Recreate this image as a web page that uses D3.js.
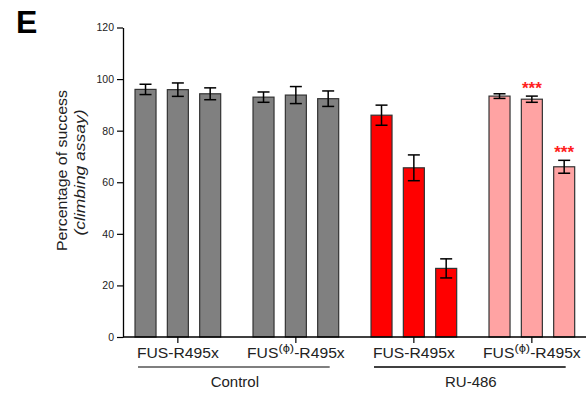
<!DOCTYPE html>
<html>
<head>
<meta charset="utf-8">
<script src="https://cdn.jsdelivr.net/npm/d3@7/dist/d3.min.js"></script>
<style>
  html, body { margin: 0; padding: 0; background: #fff; }
  svg { display: block; font-family: "Liberation Sans", Arial, sans-serif; }
</style>
</head>
<body>
<svg id="chart" width="588" height="396"></svg>
<script>
// ---- data ----
const groupIds = ["ctrl-FUS", "ctrl-FUSphi", "ru-FUS", "ru-FUSphi"];
const groupLabelMain = ["FUS", "FUS", "FUS", "FUS"];
const groupLabelSup = ["", "(\u03D5)", "", "(\u03D5)"];
const groupLabelTail = ["-R495x", "-R495x", "-R495x", "-R495x"];
const barsPerGroup = [0, 1, 2];
const values = [96.0, 95.9, 94.3, 93.0, 93.8, 92.4, 86.0, 65.6, 26.6, 93.4, 92.2, 66.0];
const errors = [2.0, 2.6, 2.3, 2.0, 3.3, 3.0, 3.9, 5.0, 3.7, 0.9, 1.2, 2.5];
const signif = ["", "", "", "", "", "", "", "", "", "", "***", "***"];
const groupColors = ["#808080", "#808080", "#ff0000", "#ffa3a3"];
const yTicks = [0, 20, 40, 60, 80, 100, 120];
const conditions = ["Control", "RU-486"];
const conditionGroups = [["ctrl-FUS", "ctrl-FUSphi"], ["ru-FUS", "ru-FUSphi"]];

// ---- layout ----
const svg = d3.select("#chart");
const axisX = 123;
const y = d3.scaleLinear().domain([0, 120]).range([337, 27.5]);
const xg = d3.scaleBand().domain(groupIds).range([118.85, 590.85]).paddingInner(0).paddingOuter(0);
const xb = d3.scaleBand().domain(barsPerGroup).range([0, xg.bandwidth()]).paddingInner(0.35).paddingOuter(0.5);

const bars = values.map((v, i) => ({
  v, e: errors[i], s: signif[i],
  g: groupIds[Math.floor(i / 3)], b: i % 3, gi: Math.floor(i / 3)
}));

// Panel letter
svg.append("text").attr("x", 16).attr("y", 33)
  .attr("font-size", 32).attr("font-weight", "bold").attr("fill", "#000").text("E");

// Bars
svg.append("g").selectAll("rect").data(bars).join("rect")
  .attr("x", d => xg(d.g) + xb(d.b))
  .attr("y", d => y(d.v))
  .attr("width", xb.bandwidth())
  .attr("height", d => y(0) - y(d.v))
  .attr("fill", d => groupColors[d.gi])
  .attr("stroke", "#333")
  .attr("stroke-width", 1.2);

// Error bars
const eg = svg.append("g").attr("stroke", "#000").attr("stroke-width", 1.5);
bars.forEach(d => {
  const cx = xg(d.g) + xb(d.b) + xb.bandwidth() / 2;
  eg.append("line").attr("x1", cx).attr("x2", cx).attr("y1", y(d.v + d.e)).attr("y2", y(d.v - d.e));
  eg.append("line").attr("x1", cx - 6).attr("x2", cx + 6).attr("y1", y(d.v + d.e)).attr("y2", y(d.v + d.e));
  eg.append("line").attr("x1", cx - 6).attr("x2", cx + 6).attr("y1", y(d.v - d.e)).attr("y2", y(d.v - d.e));
});

// Significance stars
svg.append("g").selectAll("text").data(bars.filter(d => d.s)).join("text")
  .attr("x", d => xg(d.g) + xb(d.b) + xb.bandwidth() / 2)
  .attr("y", d => y(d.v + d.e) - 2)
  .attr("text-anchor", "middle")
  .attr("font-size", 17).attr("font-weight", "bold")
  .attr("fill", "#ff2020")
  .text(d => d.s);

// Y axis
const yAxis = svg.append("g").attr("transform", `translate(${axisX},0)`)
  .call(d3.axisLeft(y).tickValues(yTicks).tickSize(6).tickSizeOuter(0).tickPadding(3));
yAxis.select(".domain").attr("stroke", "#000").attr("stroke-width", 1.3);
yAxis.selectAll(".tick line").attr("stroke", "#000").attr("stroke-width", 1.2);
yAxis.selectAll(".tick text").attr("font-size", 10.5).attr("fill", "#222")
  .attr("font-family", "Liberation Sans, Arial, sans-serif");

// X axis
const xAxis = svg.append("g").attr("transform", `translate(0,${y(0)})`)
  .call(d3.axisBottom(xg).tickSize(6).tickSizeOuter(0).tickFormat(""));
xAxis.select(".domain").remove();
xAxis.selectAll(".tick line").attr("stroke", "#000").attr("stroke-width", 1.2);
svg.append("line").attr("x1", axisX).attr("x2", 586).attr("y1", y(0)).attr("y2", y(0))
  .attr("stroke", "#000").attr("stroke-width", 1.5);

// Group labels
groupIds.forEach((g, i) => {
  const cx = xg(g) + xg.bandwidth() / 2;
  const t = svg.append("g").attr("transform", `translate(${cx},358) scale(1.12,1)`)
    .append("text").attr("text-anchor", "middle").attr("font-size", 14).attr("fill", "#222");
  t.append("tspan").text(groupLabelMain[i]);
  if (groupLabelSup[i]) {
    t.append("tspan").attr("font-size", 11.5).attr("dy", -6).text(groupLabelSup[i]);
    t.append("tspan").attr("dy", 6).text(groupLabelTail[i]);
  } else {
    t.append("tspan").text(groupLabelTail[i]);
  }
});

// Condition brackets
const lineColors = ["#555", "#000"];
conditions.forEach((c, i) => {
  const gs = conditionGroups[i];
  const x1 = xg(gs[0]) + xb(0) + 3;
  const x2 = xg(gs[1]) + xb(2) + xb.bandwidth() - 9;
  svg.append("line").attr("x1", x1).attr("x2", x2).attr("y1", 367).attr("y2", 367)
    .attr("stroke", lineColors[i]).attr("stroke-width", 1.5);
  svg.append("text").attr("x", (x1 + x2) / 2 + 1).attr("y", 386.7)
    .attr("text-anchor", "middle").attr("font-size", 15).attr("fill", "#222").text(c);
});

// Y label
const yl = svg.append("g").attr("transform", "translate(67,170.5) rotate(-90)");
yl.append("text").attr("text-anchor", "middle").attr("font-size", 15).attr("fill", "#222")
  .attr("textLength", 161).attr("lengthAdjust", "spacingAndGlyphs")
  .text("Percentage of success");
svg.append("g").attr("transform", "translate(84.5,172.5) rotate(-90)")
  .append("text").attr("text-anchor", "middle").attr("font-size", 15).attr("font-style", "italic")
  .attr("fill", "#222").attr("textLength", 126).attr("lengthAdjust", "spacingAndGlyphs")
  .text("(climbing assay)");
</script>
</body>
</html>
